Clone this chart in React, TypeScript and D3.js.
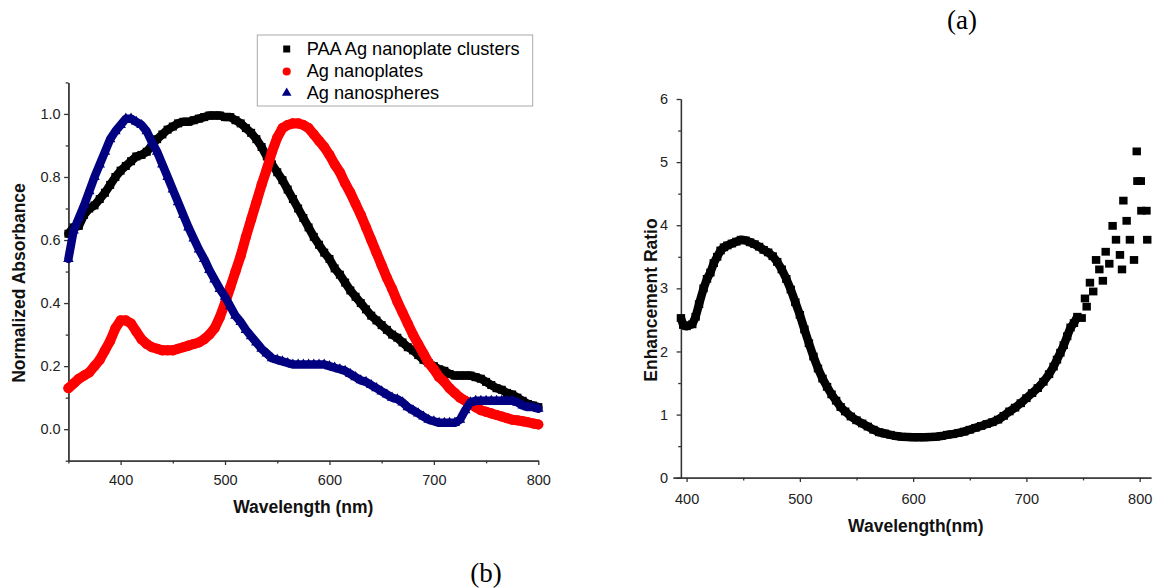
import React, { useEffect, useRef } from 'react';
import * as d3 from 'd3';

// (b) UV-vis spectra, sampled every 5 nm
const wavelengthNm = [
  350, 355, 360, 365, 370, 375, 380, 385, 390, 395,
  400, 405, 410, 415, 420, 425, 430, 435, 440, 445,
  450, 455, 460, 465, 470, 475, 480, 485, 490, 495,
  500, 505, 510, 515, 520, 525, 530, 535, 540, 545,
  550, 555, 560, 565, 570, 575, 580, 585, 590, 595,
  600, 605, 610, 615, 620, 625, 630, 635, 640, 645,
  650, 655, 660, 665, 670, 675, 680, 685, 690, 695,
  700, 705, 710, 715, 720, 725, 730, 735, 740, 745,
  750, 755, 760, 765, 770, 775, 780, 785, 790, 795,
  800,
];

const paaClusters = [
  0.62, 0.64, 0.645, 0.68, 0.7, 0.71, 0.73, 0.75, 0.775, 0.8,
  0.82, 0.835, 0.85, 0.865, 0.87, 0.88, 0.9, 0.92, 0.935, 0.95,
  0.96, 0.97, 0.975, 0.975, 0.98, 0.985, 0.99, 0.995, 0.995, 0.995,
  0.99, 0.99, 0.98, 0.97, 0.955, 0.94, 0.92, 0.895, 0.865, 0.84,
  0.815, 0.79, 0.76, 0.73, 0.7, 0.67, 0.64, 0.61, 0.585, 0.56,
  0.54, 0.51, 0.49, 0.465, 0.44, 0.42, 0.4, 0.38, 0.36, 0.345,
  0.33, 0.315, 0.3, 0.29, 0.275, 0.26, 0.25, 0.235, 0.22, 0.21,
  0.2, 0.19, 0.185, 0.175, 0.17, 0.17, 0.17, 0.17, 0.165, 0.16,
  0.15, 0.14, 0.13, 0.125, 0.115, 0.11, 0.1, 0.09, 0.08, 0.075,
  0.07,
];

const agNanoplates = [
  0.13, 0.145, 0.16, 0.17, 0.18, 0.2, 0.22, 0.25, 0.28, 0.32,
  0.345, 0.345, 0.335, 0.31, 0.285, 0.27, 0.26, 0.255, 0.25, 0.25,
  0.25, 0.255, 0.26, 0.265, 0.27, 0.275, 0.285, 0.3, 0.32, 0.355,
  0.4, 0.45, 0.5, 0.55, 0.61, 0.665, 0.72, 0.775, 0.825, 0.88,
  0.925, 0.955, 0.965, 0.97, 0.97, 0.965, 0.955, 0.935, 0.915, 0.895,
  0.87, 0.84, 0.815, 0.78, 0.75, 0.715, 0.68, 0.64, 0.6, 0.56,
  0.52, 0.48, 0.445, 0.405, 0.37, 0.335, 0.3, 0.27, 0.24, 0.21,
  0.19, 0.165, 0.15, 0.13, 0.115, 0.1, 0.09, 0.08, 0.07, 0.06,
  0.055, 0.05, 0.045, 0.04, 0.035, 0.03, 0.028, 0.025, 0.022, 0.018,
  0.015,
];

const agNanospheres = [
  0.54, 0.63, 0.67, 0.71, 0.755, 0.8, 0.84, 0.88, 0.92, 0.945,
  0.965, 0.985, 0.985, 0.975, 0.965, 0.945, 0.91, 0.88, 0.84, 0.8,
  0.76, 0.72, 0.68, 0.64, 0.605, 0.57, 0.54, 0.505, 0.475, 0.445,
  0.42, 0.39, 0.36, 0.34, 0.315, 0.295, 0.275, 0.255, 0.24, 0.225,
  0.22, 0.215, 0.21, 0.205, 0.205, 0.205, 0.205, 0.205, 0.205, 0.205,
  0.2, 0.195, 0.19, 0.185, 0.175, 0.165, 0.155, 0.15, 0.14, 0.13,
  0.12, 0.11, 0.1, 0.095, 0.085, 0.07, 0.06, 0.05, 0.04, 0.03,
  0.025, 0.02, 0.02, 0.02, 0.02, 0.03, 0.06, 0.085, 0.09, 0.09,
  0.09, 0.09, 0.09, 0.09, 0.09, 0.09, 0.085, 0.075, 0.07, 0.07,
  0.065,
];

const seriesNames = ['PAA Ag nanoplate clusters', 'Ag nanoplates', 'Ag nanospheres'];

// (a) enhancement ratio: continuous part and scattered tail
const ratioWl = [
  395, 397, 400, 405, 408, 411, 415, 418, 421, 424,
  427, 430, 433, 436, 440, 444, 448, 452, 456, 460,
  464, 468, 472, 476, 480, 484, 488, 492, 496, 500,
  504, 508, 512, 516, 520, 524, 528, 532, 536, 540,
  545, 550, 555, 560, 565, 570, 575, 580, 585, 590,
  595, 600, 605, 610, 615, 620, 625, 630, 635, 640,
  645, 650, 655, 660, 665, 670, 675, 680, 685, 690,
  695, 700, 705, 710, 715, 720, 724, 727, 730, 733,
  736, 739, 742, 745,
];
const ratioValue = [
  2.53, 2.42, 2.4, 2.43, 2.55, 2.75, 3.0, 3.15, 3.25, 3.4,
  3.5, 3.6, 3.65, 3.68, 3.71, 3.74, 3.77, 3.76, 3.73, 3.7,
  3.66, 3.61, 3.57, 3.51, 3.42, 3.3, 3.15, 2.98, 2.78, 2.58,
  2.35, 2.13, 1.92, 1.73, 1.57, 1.44, 1.32, 1.22, 1.12, 1.05,
  0.97, 0.91, 0.86, 0.81, 0.76, 0.72, 0.7, 0.68, 0.66, 0.65,
  0.645, 0.64, 0.64, 0.64, 0.645, 0.65, 0.66, 0.68, 0.69, 0.71,
  0.73, 0.76, 0.79, 0.82, 0.85, 0.88, 0.92, 0.98, 1.05, 1.11,
  1.18, 1.26, 1.34, 1.42, 1.52, 1.64, 1.76, 1.87, 1.98, 2.1,
  2.24, 2.38, 2.45, 2.55,
];
const tailWl = [
  748.8, 751.7, 753.2, 756.1, 759, 761.5, 764.4, 767.5, 770, 773.2,
  776.1, 779.1, 782.6, 784.4, 785.6, 788.5, 791.4, 795, 797.4, 798,
  801, 801.5, 806, 806.7,
];
const tailValue = [
  2.53, 2.84, 2.71, 3.09, 2.95, 3.45, 3.3, 3.12, 3.58, 3.39,
  3.99, 3.77, 3.53, 3.3, 4.39, 4.07, 3.77, 3.45, 5.17, 4.7,
  4.7, 4.23, 4.23, 3.77,
];

const W = 1154;
const H = 588;
const axisColor = '#333';
const sans = 'Arial, "Liberation Sans", sans-serif';
const serif = '"Times New Roman", "Liberation Serif", serif';

const App = () => {
  const svgRef = useRef<SVGSVGElement>(null);

  useEffect(() => {
    const svg = d3.select(svgRef.current);
    svg.selectAll('*').remove();
    svg.append('rect').attr('width', W).attr('height', H).attr('fill', '#fff');

    const styleAxis = (g: any, fs: number) => {
      g.select('.domain').attr('stroke', axisColor).attr('stroke-width', 1.3);
      g.selectAll('.tick line').attr('stroke', axisColor).attr('stroke-width', 1.3);
      g.selectAll('.tick text').attr('fill', '#222').attr('font-size', fs).attr('font-family', sans);
    };

    // ---------- left panel (b) ----------
    const x1 = d3.scaleLinear().domain([350, 800]).range([68.4, 538.3]);
    const y1 = d3.scaleLinear().domain([-0.1, 1.1]).range([460.7, 82.4]);

    const lp = svg.append('g');
    lp.append('g')
      .attr('transform', 'translate(0,460.7)')
      .call(d3.axisBottom(x1).tickValues([350, 450, 550, 650, 750]).tickSize(2.7).tickSizeOuter(0).tickFormat(() => ''))
      .call((g: any) => styleAxis(g, 14));
    lp.append('g')
      .attr('transform', 'translate(0,460.7)')
      .call(d3.axisBottom(x1).tickValues([400, 500, 600, 700, 800]).tickSize(4.3).tickPadding(10).tickSizeOuter(0))
      .call((g: any) => styleAxis(g, 14.5));
    lp.append('g')
      .attr('transform', 'translate(68.4,0)')
      .call(d3.axisLeft(y1).tickValues([-0.1, 0.1, 0.3, 0.5, 0.7, 0.9, 1.1]).tickSize(2.7).tickSizeOuter(0).tickFormat(() => ''))
      .call((g: any) => styleAxis(g, 14));
    lp.append('g')
      .attr('transform', 'translate(68.4,0)')
      .call(d3.axisLeft(y1).tickValues([0, 0.2, 0.4, 0.6, 0.8, 1.0]).tickSize(4.3).tickPadding(3.5).tickSizeOuter(0).tickFormat(d3.format('.1f')))
      .call((g: any) => styleAxis(g, 14.5));

    const spectra = [
      { vals: paaClusters, color: '#000000', width: 8.5, shape: 'square' },
      { vals: agNanoplates, color: '#ff0000', width: 10, shape: 'circle' },
      { vals: agNanospheres, color: '#000080', width: 8.5, shape: 'triangle' },
    ];
    const symbolFor = (shape: string) =>
      shape === 'square'
        ? d3.symbol(d3.symbolSquare, 64)()
        : shape === 'circle'
        ? d3.symbol(d3.symbolCircle, 80)()
        : d3.symbol(d3.symbolTriangle, 48)();

    spectra.forEach((s) => {
      const pts = wavelengthNm.map((w, i) => [w, s.vals[i]] as [number, number]);
      lp.append('path')
        .attr('d', d3.line<[number, number]>().x((d) => x1(d[0])).y((d) => y1(d[1]))(pts))
        .attr('fill', 'none')
        .attr('stroke', s.color)
        .attr('stroke-width', s.width)
        .attr('stroke-linejoin', 'round')
        .attr('stroke-linecap', 'round');
      lp.append('g')
        .selectAll('path')
        .data(pts)
        .join('path')
        .attr('d', symbolFor(s.shape))
        .attr('transform', (d) => `translate(${x1(d[0])},${y1(d[1])})`)
        .attr('fill', s.color);
    });

    // legend
    const lg = lp.append('g');
    lg.append('rect')
      .attr('x', 257.3).attr('y', 35).attr('width', 275.4).attr('height', 71)
      .attr('fill', '#fff').attr('stroke', '#aaa').attr('stroke-width', 1);
    const legendY = [49, 71.5, 93];
    const legendBase = [55, 77, 98.5];
    spectra.forEach((s, i) => {
      lg.append('path')
        .attr('d', s.shape === 'square' ? d3.symbol(d3.symbolSquare, 49)() : s.shape === 'circle' ? d3.symbol(d3.symbolCircle, 52)() : d3.symbol(d3.symbolTriangle, 40)())
        .attr('transform', `translate(286.7,${legendY[i]})`)
        .attr('fill', s.color);
      lg.append('text')
        .attr('x', 306.7).attr('y', legendBase[i])
        .attr('font-family', sans).attr('font-size', 18.2).attr('fill', '#000')
        .text(seriesNames[i]);
    });

    lp.append('text')
      .attr('transform', 'translate(25,283) rotate(-90)')
      .attr('text-anchor', 'middle')
      .attr('font-family', sans).attr('font-weight', 'bold').attr('font-size', 17.5).attr('fill', '#111')
      .text('Normalized Absorbance');
    lp.append('text')
      .attr('x', 303.3).attr('y', 513)
      .attr('text-anchor', 'middle')
      .attr('font-family', sans).attr('font-weight', 'bold').attr('font-size', 17.5).attr('fill', '#111')
      .text('Wavelength (nm)');
    lp.append('text')
      .attr('x', 486).attr('y', 582)
      .attr('text-anchor', 'middle')
      .attr('font-family', serif).attr('font-size', 27).attr('fill', '#000')
      .text('(b)');

    // ---------- right panel (a) ----------
    const x2 = d3.scaleLinear().domain([388, 810]).range([673, 1151]);
    const y2 = d3.scaleLinear().domain([0, 6]).range([477.7, 99]);
    const yAxisX = x2(395);

    const rp = svg.append('g');
    rp.append('g')
      .attr('transform', 'translate(0,477.7)')
      .call(d3.axisBottom(x2).tickValues([450, 550, 650, 750]).tickSize(2.7).tickSizeOuter(0).tickFormat(() => ''))
      .call((g: any) => styleAxis(g, 14));
    rp.append('g')
      .attr('transform', 'translate(0,477.7)')
      .call(d3.axisBottom(x2).tickValues([400, 500, 600, 700, 800]).tickSize(4.3).tickPadding(11.5).tickSizeOuter(0))
      .call((g: any) => styleAxis(g, 14.5));
    rp.append('g')
      .attr('transform', `translate(${yAxisX},0)`)
      .call(d3.axisLeft(y2).tickValues([0.5, 1.5, 2.5, 3.5, 4.5, 5.5]).tickSize(2.7).tickSizeOuter(0).tickFormat(() => ''))
      .call((g: any) => styleAxis(g, 14));
    rp.append('g')
      .attr('transform', `translate(${yAxisX},0)`)
      .call(d3.axisLeft(y2).tickValues([0, 1, 2, 3, 4, 5, 6]).tickSize(4.3).tickPadding(8.5).tickSizeOuter(0).tickFormat(d3.format('d')))
      .call((g: any) => styleAxis(g, 14.5));

    const curvePts = ratioWl.map((w, i) => [w, ratioValue[i]] as [number, number]);
    const tailPts = tailWl.map((w, i) => [w, tailValue[i]] as [number, number]);
    rp.append('path')
      .attr('d', d3.line<[number, number]>().x((d) => x2(d[0])).y((d) => y2(d[1]))(curvePts))
      .attr('fill', 'none')
      .attr('stroke', '#000')
      .attr('stroke-width', 8.5)
      .attr('stroke-linejoin', 'round');
    rp.append('g')
      .selectAll('rect')
      .data(curvePts.concat(tailPts))
      .join('rect')
      .attr('x', (d) => x2(d[0]) - 4.2)
      .attr('y', (d) => y2(d[1]) - 3.9)
      .attr('width', 8.4)
      .attr('height', 7.8)
      .attr('fill', '#000');

    rp.append('text')
      .attr('transform', 'translate(656.5,300) rotate(-90)')
      .attr('text-anchor', 'middle')
      .attr('font-family', sans).attr('font-weight', 'bold').attr('font-size', 17.5).attr('fill', '#111')
      .text('Enhancement Ratio');
    rp.append('text')
      .attr('x', 915.8).attr('y', 532)
      .attr('text-anchor', 'middle')
      .attr('font-family', sans).attr('font-weight', 'bold').attr('font-size', 17.5).attr('fill', '#111')
      .text('Wavelength(nm)');
    rp.append('text')
      .attr('x', 962).attr('y', 29)
      .attr('text-anchor', 'middle')
      .attr('font-family', serif).attr('font-size', 27).attr('fill', '#000')
      .text('(a)');
  }, []);

  return (
    <svg
      ref={svgRef}
      width={W}
      height={H}
      style={{ position: 'absolute', left: 0, top: 0, display: 'block' }}
    />
  );
};

export default App;
